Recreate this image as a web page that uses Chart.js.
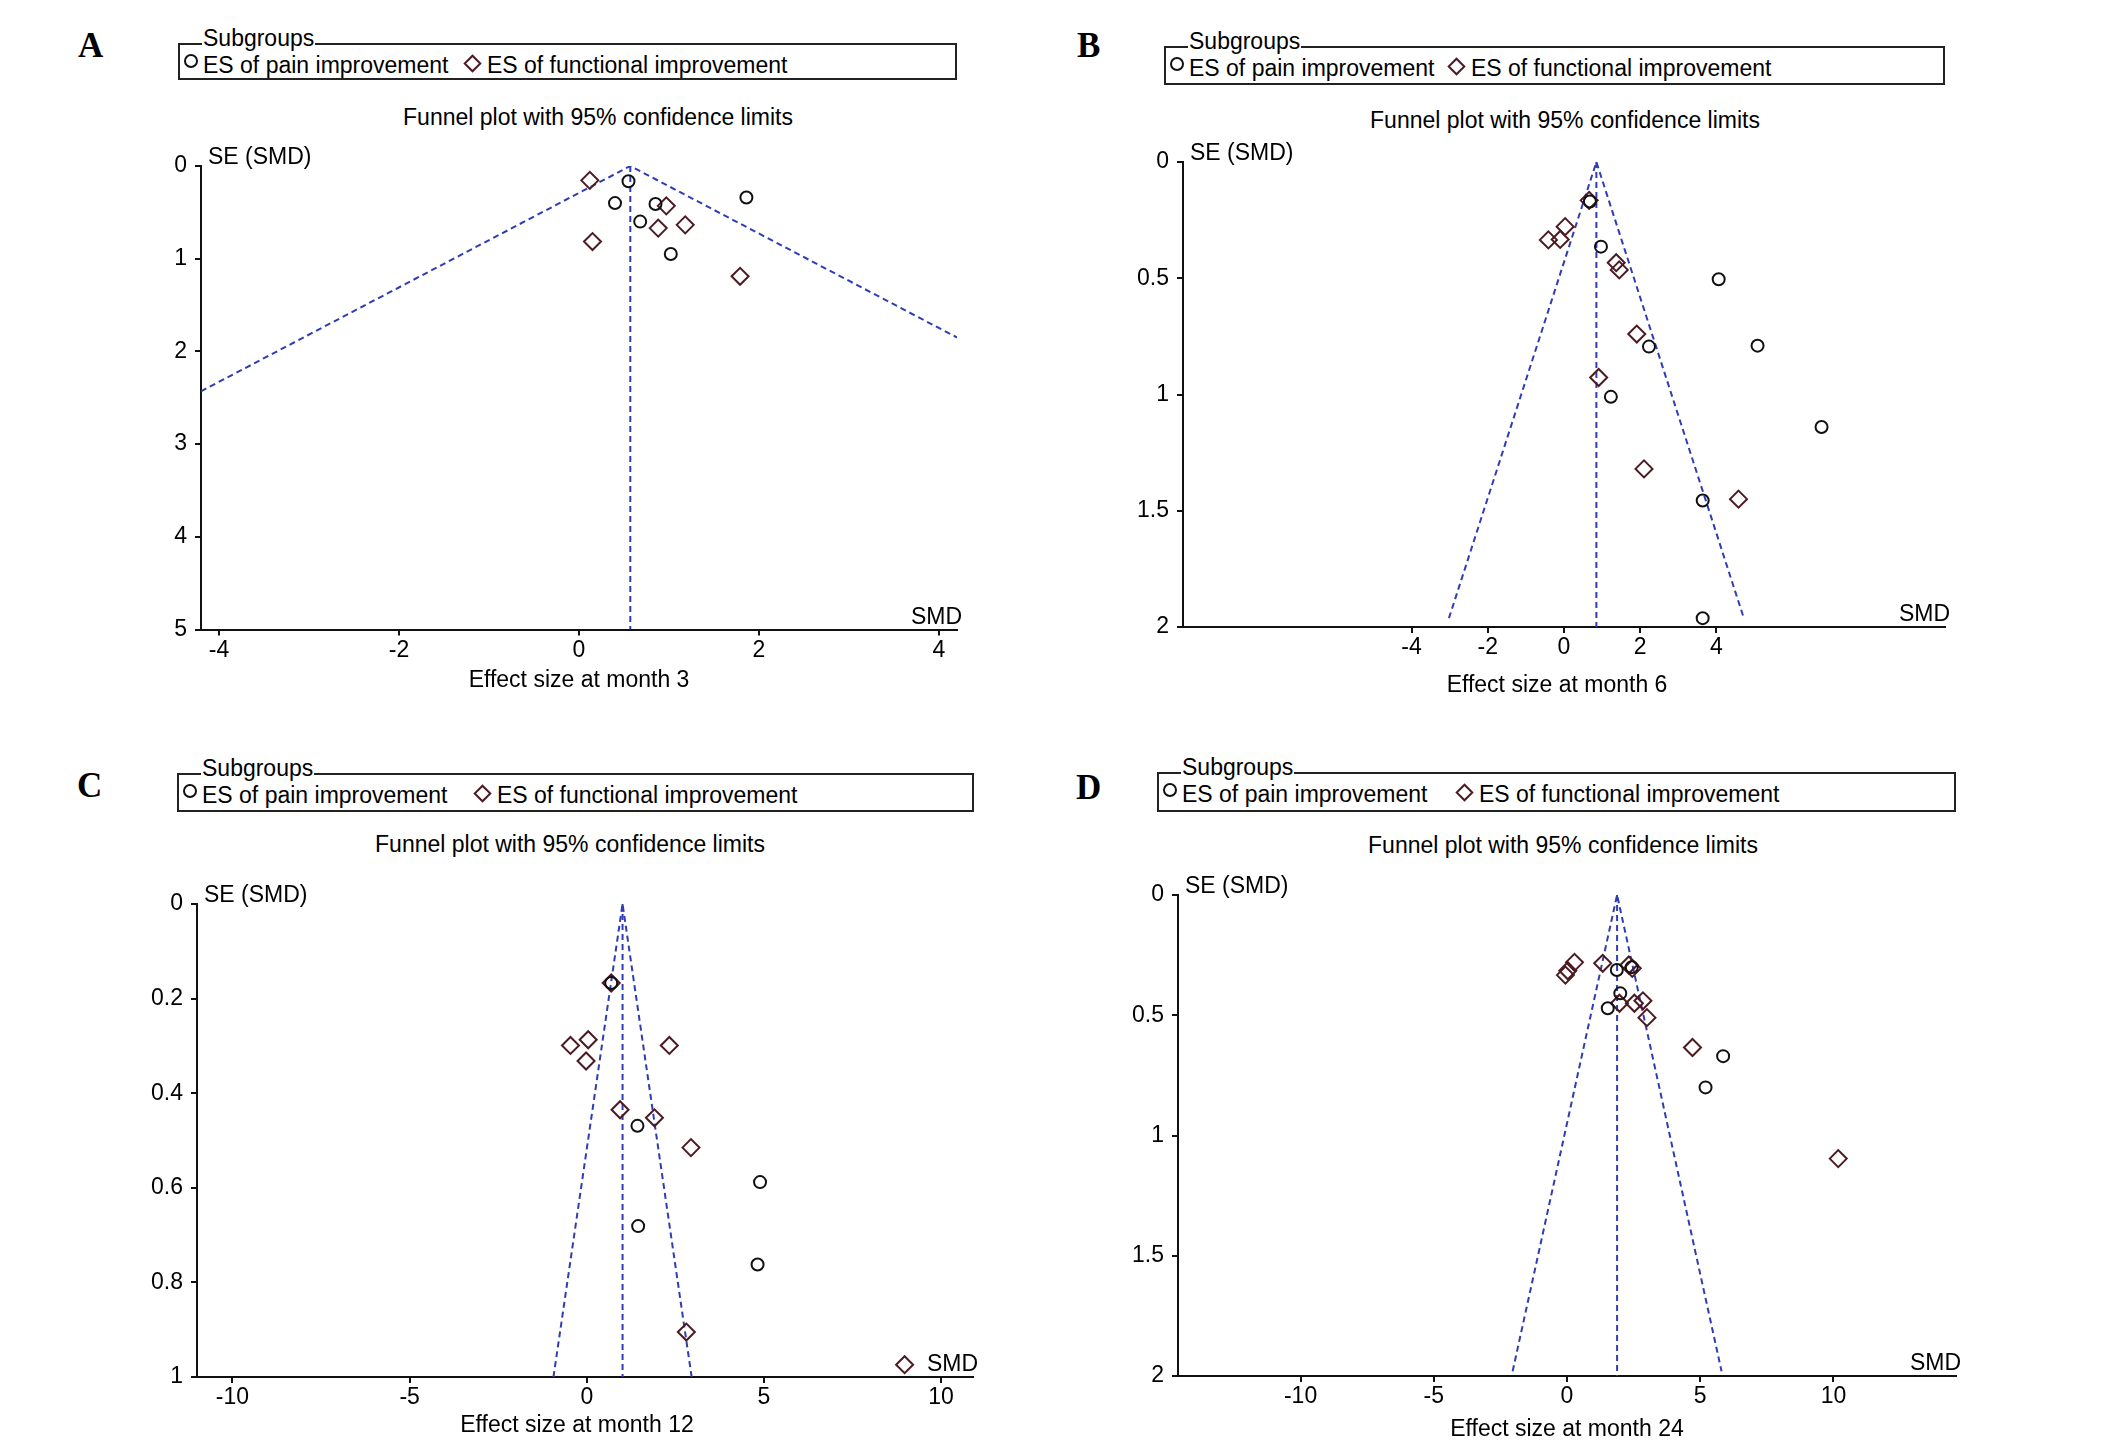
<!DOCTYPE html>
<html>
<head>
<meta charset="utf-8">
<title>Funnel plots</title>
<script src="https://cdn.jsdelivr.net/npm/chart.js@4.4.1/dist/chart.umd.min.js"></script>
<style>
  html, body { margin: 0; padding: 0; background: #fff; }
  body { position: relative; width: 2126px; height: 1452px; overflow: hidden;
         font-family: "Liberation Sans", Arial, sans-serif; color: #000; }
  .letter { position: absolute; font-family: "Liberation Serif", "Times New Roman", serif;
            font-weight: bold; font-size: 35px; line-height: 35px; }
  .ttl { position: absolute; font-size: 23px; line-height: 23px; white-space: nowrap;
         transform: translateX(-50%); }
  .legend { position: absolute; border: 2px solid #222; box-sizing: border-box; }
  .legend .cap { position: absolute; top: -18px; left: 22px; padding: 0 1px; background: #fff;
                 font-size: 23px; line-height: 23px; white-space: nowrap; }
  .legend .row { position: absolute; left: 23px; top: 9px; display: flex; white-space: nowrap;
                 font-size: 23px; line-height: 23px; }
  .legend .circ { position: absolute; left: 4px; top: 9px; width: 14px; height: 14px;
                  border: 2px solid #111; border-radius: 50%; box-sizing: border-box; }
  .legend .diam { width: 13px; height: 13px; border: 2px solid #4d1a22; box-sizing: border-box;
                  transform: rotate(45deg); margin-top: 3px; margin-right: 8px; flex: none; }
  .plot { position: absolute; }
</style>
</head>
<body>
<script>
// texts
const chartTitle = 'Funnel plot with 95% confidence limits';
const legendTitle = 'Subgroups';
const subgroupLabels = ['ES of pain improvement', 'ES of functional improvement'];
const yAxisLabel = 'SE (SMD)';
const xEndLabel = 'SMD';
const panelLetters = ['A', 'B', 'C', 'D'];
const xAxisTitles = ['Effect size at month 3', 'Effect size at month 6',
                     'Effect size at month 12', 'Effect size at month 24'];

// A - month 3
const seTicksA = [0, 1, 2, 3, 4, 5];
const smdTicksA = [-4, -2, 0, 2, 4];
const painSmdA = [0.55, 0.40, 0.85, 0.68, 1.86, 1.02];
const painSeA  = [0.165, 0.40, 0.41, 0.60, 0.34, 0.95];
const funcSmdA = [0.12, 0.97, 0.88, 1.18, 0.15, 1.79];
const funcSeA  = [0.155, 0.43, 0.67, 0.635, 0.815, 1.19];
const funnelSmdA = [-4.2, 0.57, 4.2];
const funnelSeA  = [2.43, 0, 1.85];
const pooledSmdA = [0.57, 0.57];
const pooledSeA  = [0, 5];

// B - month 6
const seTicksB = [0, 0.5, 1, 1.5, 2];
const smdTicksB = [-4, -2, 0, 2, 4];
const painSmdB = [0.68, 0.97, 4.06, 5.08, 2.23, 1.23, 6.76, 3.64, 3.64];
const painSeB  = [0.17, 0.364, 0.504, 0.79, 0.794, 1.01, 1.14, 1.456, 1.962];
const funcSmdB = [0.66, 0.03, -0.41, -0.10, 1.37, 1.45, 1.91, 0.91, 2.10, 4.58];
const funcSeB  = [0.165, 0.278, 0.335, 0.333, 0.433, 0.464, 0.74, 0.927, 1.32, 1.45];
const funnelSmdB = [-3.02, 0.85, 4.72];
const funnelSeB  = [1.962, 0, 1.962];
const pooledSmdB = [0.85, 0.85];
const pooledSeB  = [0, 2];

// C - month 12
const seTicksC = [0, 0.2, 0.4, 0.6, 0.8, 1];
const smdTicksC = [-10, -5, 0, 5, 10];
const painSmdC = [0.69, 1.43, 4.89, 1.45, 4.82];
const painSeC  = [0.167, 0.469, 0.588, 0.681, 0.762];
const funcSmdC = [0.69, -0.46, 0.04, -0.02, 2.33, 0.94, 1.91, 2.94, 2.81, 8.97];
const funcSeC  = [0.167, 0.299, 0.287, 0.332, 0.299, 0.435, 0.452, 0.515, 0.905, 0.974];
const funnelSmdC = [-0.94, 1.01, 2.96];
const funnelSeC  = [1, 0, 1];
const pooledSmdC = [1.01, 1.01];
const pooledSeC  = [0, 1];

// D - month 24
const seTicksD = [0, 0.5, 1, 1.5, 2];
const smdTicksD = [-10, -5, 0, 5, 10];
const painSmdD = [1.87, 2.43, 2.00, 1.53, 5.86, 5.20];
const painSeD  = [0.312, 0.30, 0.409, 0.471, 0.67, 0.80];
const funcSmdD = [-0.06, 0.03, 0.28, 1.34, 2.32, 2.45, 1.97, 2.53, 2.85, 3.00, 4.71, 10.18];
const funcSeD  = [0.333, 0.315, 0.28, 0.284, 0.291, 0.305, 0.45, 0.45, 0.44, 0.51, 0.634, 1.096];
const funnelSmdD = [-2.04, 1.88, 5.8];
const funnelSeD  = [1.98, 0, 1.98];
const pooledSmdD = [1.88, 1.88];
const pooledSeD  = [0, 2];

const FONT = '"Liberation Sans", Arial, sans-serif';
const BLUE = '#2f3db5';
const MAROON = '#4d1a22';
const AXIS_W = 90, AXIS_H = 100, PAD_T = 30, PAD_R = 40;

// page layout of each panel (pixels in the 2126x1452 picture)
const panels = [
  { letter: [78, 28], box: [178, 43, 779, 37], gap: 24, title: [598, 105.5],
    L: 201, R: 957, T: 165.5, B: 629, xMin: -4.2, xMax: 4.2, yMax: 5, xtDx: 0, xtDy: 57,
    seTicks: seTicksA, smdTicks: smdTicksA, painSmd: painSmdA, painSe: painSeA,
    funcSmd: funcSmdA, funcSe: funcSeA, funnelSmd: funnelSmdA, funnelSe: funnelSeA,
    pooledSmd: pooledSmdA, pooledSe: pooledSeA },
  { letter: [1077, 28], box: [1164, 46, 781, 39], gap: 22, title: [1565, 109],
    L: 1183, R: 1945, T: 162, B: 627, xMin: -10, xMax: 10, yMax: 2, xtDx: -7, xtDy: 65,
    seTicks: seTicksB, smdTicks: smdTicksB, painSmd: painSmdB, painSe: painSeB,
    funcSmd: funcSmdB, funcSe: funcSeB, funnelSmd: funnelSmdB, funnelSe: funnelSeB,
    pooledSmd: pooledSmdB, pooledSe: pooledSeB },
  { letter: [77, 768], box: [177, 773, 797, 39], gap: 35, title: [570, 832.5],
    L: 197, R: 973, T: 904, B: 1377, xMin: -11, xMax: 10.9, yMax: 1, xtDx: -8, xtDy: 55,
    seTicks: seTicksC, smdTicks: smdTicksC, painSmd: painSmdC, painSe: painSeC,
    funcSmd: funcSmdC, funcSe: funcSeC, funnelSmd: funnelSmdC, funnelSe: funnelSeC,
    pooledSmd: pooledSmdC, pooledSe: pooledSeC },
  { letter: [1076, 770], box: [1157, 772, 799, 40], gap: 37, title: [1563, 834],
    L: 1178, R: 1956, T: 895, B: 1376, xMin: -14.6, xMax: 14.6, yMax: 2, xtDx: 0, xtDy: 60,
    seTicks: seTicksD, smdTicks: smdTicksD, painSmd: painSmdD, painSe: painSeD,
    funcSmd: funcSmdD, funcSe: funcSeD, funnelSmd: funnelSmdD, funnelSe: funnelSeD,
    pooledSmd: pooledSmdD, pooledSe: pooledSeD }
];

const pts = (xs, ys) => xs.map((x, i) => ({ x, y: ys[i] }));

function addEl(parent, cls, text) {
  const el = document.createElement('div');
  el.className = cls;
  if (text !== undefined) el.textContent = text;
  parent.appendChild(el);
  return el;
}

// draws "SE (SMD)", "SMD" and the x title at the panel's own spots
const axisLabels = {
  id: 'axisLabels',
  afterDraw(chart, args, opts) {
    const { ctx, chartArea: a } = chart;
    ctx.save();
    ctx.fillStyle = '#000';
    ctx.font = '23px ' + FONT;
    ctx.textBaseline = 'alphabetic';
    ctx.textAlign = 'left';
    ctx.fillText(yAxisLabel, a.left + 7, a.top - 2);
    ctx.textAlign = 'right';
    ctx.fillText(xEndLabel, a.right + 5, a.bottom - 6);
    ctx.textAlign = 'center';
    ctx.fillText(opts.xTitle, (a.left + a.right) / 2 + opts.dx, a.bottom + opts.dy);
    ctx.restore();
  }
};

function axisStyle() {
  return {
    grid: { display: true, drawOnChartArea: false, drawTicks: true, tickLength: 6,
            tickWidth: 2, tickColor: '#111', color: '#111', lineWidth: 2 },
    border: { display: true, color: '#111', width: 2 }
  };
}

function makePanel(p, i) {
  const body = document.body;

  const letter = addEl(body, 'letter', panelLetters[i]);
  letter.style.left = p.letter[0] + 'px';
  letter.style.top = p.letter[1] + 'px';

  const box = addEl(body, 'legend');
  box.style.cssText = `left:${p.box[0]}px;top:${p.box[1]}px;width:${p.box[2]}px;height:${p.box[3]}px`;
  addEl(box, 'cap', legendTitle);
  addEl(box, 'circ');
  const row = addEl(box, 'row');
  const t1 = document.createElement('span');
  t1.textContent = subgroupLabels[0];
  row.appendChild(t1);
  const d = document.createElement('span');
  d.className = 'diam';
  d.style.marginLeft = (p.gap - 6.5) + 'px';
  row.appendChild(d);
  const t2 = document.createElement('span');
  t2.textContent = subgroupLabels[1];
  row.appendChild(t2);

  const ttl = addEl(body, 'ttl', chartTitle);
  ttl.style.left = p.title[0] + 'px';
  ttl.style.top = p.title[1] + 'px';

  const wrap = addEl(body, 'plot');
  const w = p.R - p.L + AXIS_W + PAD_R;
  const h = p.B - p.T + PAD_T + AXIS_H;
  wrap.style.cssText = `left:${p.L - AXIS_W}px;top:${p.T - PAD_T}px;width:${w}px;height:${h}px`;
  const canvas = document.createElement('canvas');
  wrap.appendChild(canvas);

  const xAxis = Object.assign(axisStyle(), {
    type: 'linear', min: p.xMin, max: p.xMax,
    afterBuildTicks: s => { s.ticks = p.smdTicks.map(v => ({ value: v })); },
    afterFit: s => { s.height = AXIS_H; },
    ticks: { color: '#000', font: { size: 23, family: FONT }, padding: 1,
             maxRotation: 0, autoSkip: false, callback: v => String(v) }
  });
  const yAxis = Object.assign(axisStyle(), {
    type: 'linear', min: 0, max: p.yMax, reverse: true,
    afterBuildTicks: s => { s.ticks = p.seTicks.map(v => ({ value: v })); },
    afterFit: s => { s.width = AXIS_W; },
    ticks: { color: '#000', font: { size: 23, family: FONT }, padding: 8,
             autoSkip: false, callback: v => String(v) }
  });

  new Chart(canvas, {
    type: 'scatter',
    data: {
      datasets: [
        { label: subgroupLabels[0], data: pts(p.painSmd, p.painSe), order: 0, clip: false,
          pointStyle: 'circle', pointRadius: 6, pointBorderWidth: 2,
          pointBorderColor: '#111', pointBackgroundColor: 'rgba(0,0,0,0)' },
        { label: subgroupLabels[1], data: pts(p.funcSmd, p.funcSe), order: 0, clip: false,
          pointStyle: 'rectRot', pointRadius: 8.5, pointBorderWidth: 2,
          pointBorderColor: MAROON, pointBackgroundColor: 'rgba(0,0,0,0)' },
        { label: '95% limits', data: pts(p.funnelSmd, p.funnelSe), order: 1,
          showLine: true, pointRadius: 0, borderColor: BLUE, borderWidth: 2,
          borderDash: [6, 4], fill: false },
        { label: 'Pooled SMD', data: pts(p.pooledSmd, p.pooledSe), order: 1,
          showLine: true, pointRadius: 0, borderColor: BLUE, borderWidth: 2,
          borderDash: [6, 4], fill: false }
      ]
    },
    options: {
      responsive: true,
      maintainAspectRatio: false,
      animation: false,
      layout: { padding: { left: 0, top: PAD_T, right: PAD_R, bottom: 0 } },
      scales: { x: xAxis, y: yAxis },
      plugins: {
        legend: { display: false },
        tooltip: { enabled: false },
        axisLabels: { xTitle: xAxisTitles[i], dx: p.xtDx, dy: p.xtDy }
      }
    },
    plugins: [axisLabels]
  });
}

panels.forEach(makePanel);
</script>
</body>
</html>
